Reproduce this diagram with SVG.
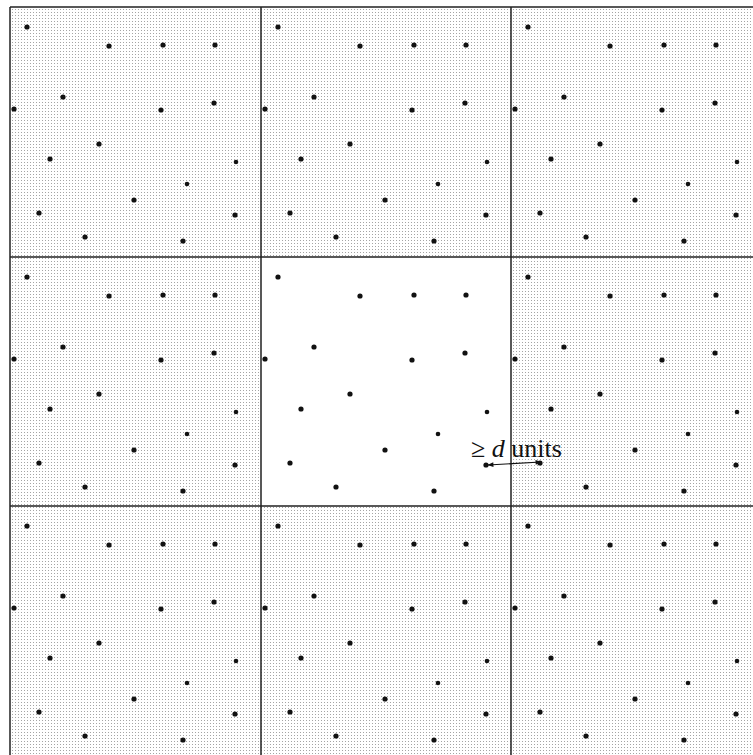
<svg xmlns="http://www.w3.org/2000/svg" xmlns:xlink="http://www.w3.org/1999/xlink" width="753" height="755" viewBox="0 0 753 755">
<style>
.dot{fill:#111}
.grid{stroke:#222;stroke-width:1.5;fill:none}
.lbl{font-family:"Liberation Serif","Times New Roman",serif;font-size:26px;fill:#111}
</style>
<defs>
<pattern id="stip" width="3" height="3" patternUnits="userSpaceOnUse">
<rect x="0" y="0" width="1" height="1" fill="#a4a4a4"/>
</pattern>
<g id="pts">
<circle class="dot" cx="17" cy="20" r="2.6"/>
<circle class="dot" cx="99" cy="39" r="2.6"/>
<circle class="dot" cx="153" cy="38" r="2.6"/>
<circle class="dot" cx="205" cy="38" r="2.6"/>
<circle class="dot" cx="53" cy="90" r="2.6"/>
<circle class="dot" cx="4" cy="102" r="2.6"/>
<circle class="dot" cx="151" cy="103" r="2.6"/>
<circle class="dot" cx="204" cy="96" r="2.6"/>
<circle class="dot" cx="89" cy="137" r="2.6"/>
<circle class="dot" cx="40" cy="152" r="2.6"/>
<circle class="dot" cx="226" cy="155" r="2.3"/>
<circle class="dot" cx="177" cy="177" r="2.3"/>
<circle class="dot" cx="124" cy="193" r="2.6"/>
<circle class="dot" cx="29" cy="206" r="2.6"/>
<circle class="dot" cx="225" cy="208" r="2.6"/>
<circle class="dot" cx="75" cy="230" r="2.6"/>
<circle class="dot" cx="173" cy="234" r="2.6"/>
</g>
<marker id="ah" viewBox="0 0 10 10" refX="9" refY="5" markerWidth="8" markerHeight="6" orient="auto-start-reverse" markerUnits="userSpaceOnUse">
<path d="M0,1 L10,5 L0,9 Z" fill="#111"/>
</marker>
</defs>
<rect width="753" height="755" fill="#fff"/>
<g id="tile-0-0"><rect x="10" y="7" width="251" height="250" fill="url(#stip)"/><use xlink:href="#pts" href="#pts" transform="translate(10,7)"/></g>
<g id="tile-0-1"><rect x="261" y="7" width="250" height="250" fill="url(#stip)"/><use xlink:href="#pts" href="#pts" transform="translate(261,7)"/></g>
<g id="tile-0-2"><rect x="511" y="7" width="242" height="250" fill="url(#stip)"/><use xlink:href="#pts" href="#pts" transform="translate(511,7)"/></g>
<g id="tile-1-0"><rect x="10" y="257" width="251" height="249" fill="url(#stip)"/><use xlink:href="#pts" href="#pts" transform="translate(10,257)"/></g>
<g id="tile-1-1"><rect x="261" y="257" width="250" height="249" fill="#fff"/><use xlink:href="#pts" href="#pts" transform="translate(261,257)"/></g>
<g id="tile-1-2"><rect x="511" y="257" width="242" height="249" fill="url(#stip)"/><use xlink:href="#pts" href="#pts" transform="translate(511,257)"/></g>
<g id="tile-2-0"><rect x="10" y="506" width="251" height="249" fill="url(#stip)"/><use xlink:href="#pts" href="#pts" transform="translate(10,506)"/></g>
<g id="tile-2-1"><rect x="261" y="506" width="250" height="249" fill="url(#stip)"/><use xlink:href="#pts" href="#pts" transform="translate(261,506)"/></g>
<g id="tile-2-2"><rect x="511" y="506" width="242" height="249" fill="url(#stip)"/><use xlink:href="#pts" href="#pts" transform="translate(511,506)"/></g>
<g id="grid">
<path class="grid" d="M10,7 H753 M10,257 H753 M10,506 H753 M10,7 V755 M261,7 V755 M511,7 V755"/>
</g>
<g id="connectors">
<line x1="488" y1="465" x2="541" y2="462" stroke="#111" stroke-width="1.2" marker-start="url(#ah)" marker-end="url(#ah)"/>
</g>
<g id="label">
<text class="lbl" x="471" y="457">≥ <tspan font-style="italic">d</tspan> units</text>
</g>
</svg>
